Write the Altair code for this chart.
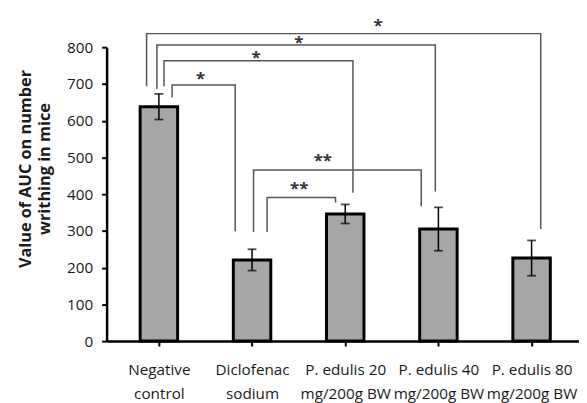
import json
import altair as alt
import pandas as pd

# ---- data ----
categories = ["Negative control", "Diclofenac sodium", "P. edulis 20 mg/200g BW",
              "P. edulis 40 mg/200g BW", "P. edulis 80 mg/200g BW"]
label_lines = [["Negative", "control"], ["Diclofenac", "sodium"],
               ["P. edulis 20", "mg/200g BW"], ["P. edulis 40", "mg/200g BW"],
               ["P. edulis 80", "mg/200g BW"]]
means = [638, 221, 346, 305, 226]
errors = [35, 29, 26, 59, 48]
y_ticks = [0, 100, 200, 300, 400, 500, 600, 700, 800]

# significance brackets (x in category-index units, y in axis units)
br_x1 = [-0.132, -0.021, 0.055, 0.142, 1.016, 1.161]
br_x2 = [4.098, 2.967, 2.083, 0.819, 2.816, 1.896]
br_top = [837, 806, 763, 697, 466, 391]
br_left_foot = [694, 686, 694, 663, 297, 297]
br_right_foot = [305, 407, 404, 299, 367, 377]
star_text = ["*", "*", "*", "*", "**", "**"]
star_x = [2.352, 1.503, 1.044, 0.446, 1.759, 1.506]
star_y = [857, 812, 771, 712, 490, 414]

# ---- tables ----
idx = list(range(len(categories)))
bars = pd.DataFrame({"idx": idx, "cat": categories, "mean": means,
                     "lo": [m - e for m, e in zip(means, errors)],
                     "hi": [m + e for m, e in zip(means, errors)]})
caps = pd.concat([bars[["idx", "lo"]].rename(columns={"lo": "v"}),
                  bars[["idx", "hi"]].rename(columns={"hi": "v"})])

rows = []
for b in range(len(br_x1)):
    pts = [(br_x1[b], br_left_foot[b]), (br_x1[b], br_top[b]),
           (br_x2[b], br_top[b]), (br_x2[b], br_right_foot[b])]
    for k, (xx, yy) in enumerate(pts):
        rows.append({"b": b, "k": k, "x": xx, "y": yy})
brackets = pd.DataFrame(rows)
stars = pd.DataFrame({"x": star_x, "y": star_y, "t": star_text})

FONT = "Open Sans"
label_expr = json.dumps(label_lines) + "[datum.value]"

xscale = alt.Scale(domain=[-0.508, 4.456], nice=False, zero=False)
yscale = alt.Scale(domain=[0, 800], nice=False, zero=True)

xaxis = alt.Axis(values=idx, labelExpr=label_expr, title=None, grid=False,
                 labelFlush=False, labelOverlap=False, labelBound=False,
                 labelFont=FONT, labelFontSize=15.5, labelColor="#1a1a1a",
                 labelLineHeight=24, labelPadding=17, labelBaseline="top",
                 tickSize=5, tickWidth=2, tickColor="black",
                 domainColor="black", domainWidth=2.5)
yaxis = alt.Axis(values=y_ticks, tickCount=9, grid=False, labelOverlap=False,
                 labelFlush=False, labelBound=False,
                 title=["Value of AUC on number", "writhing in mice"],
                 titleFont=FONT, titleFontSize=16.5, titleFontWeight="bold",
                 titleColor="#1a1a1a", titleX=-82, titleY=123,
                 titleLineHeight=19,
                 titleAlign="center", titleBaseline="middle", titleAngle=-90,
                 labelFont=FONT, labelFontSize=15.5, labelColor="#1a1a1a",
                 labelPadding=9, tickSize=5, tickWidth=2, tickColor="black",
                 domainColor="black", domainWidth=2.5)

X = lambda f: alt.X(f, type="quantitative", scale=xscale, axis=xaxis)
Y = lambda f: alt.Y(f, type="quantitative", scale=yscale, axis=yaxis)

bar_layer = alt.Chart(bars).mark_bar(size=38, fill="#a6a6a6", stroke="black",
                                     strokeWidth=3).encode(x=X("idx"), y=Y("mean"))
err_layer = alt.Chart(bars).mark_rule(color="black", strokeWidth=1.5).encode(
    x=X("idx"), y=Y("lo"), y2="hi:Q")
cap_layer = alt.Chart(caps).mark_tick(orient="horizontal", size=9, thickness=1.8,
                                      color="black").encode(x=X("idx"), y=Y("v"))
br_layer = alt.Chart(brackets).mark_line(color="#555555", strokeWidth=1.5,
                                         strokeJoin="miter").encode(
    x=X("x"), y=Y("y"), detail="b:N", order="k:Q")
star_layer = alt.Chart(stars).mark_text(font=FONT, fontSize=17, fontWeight="bold",
                                        color="#333333", baseline="middle").encode(
    x=X("x"), y=Y("y"), text="t:N")

chart = alt.layer(bar_layer, err_layer, cap_layer, br_layer, star_layer).properties(
    width=479, height=298, autosize="none",
    padding={"left": 100, "top": 37, "right": 0, "bottom": 60},
).configure_view(strokeOpacity=0)

chart.save("out.html", embed_options={"renderer": "svg", "actions": False})
